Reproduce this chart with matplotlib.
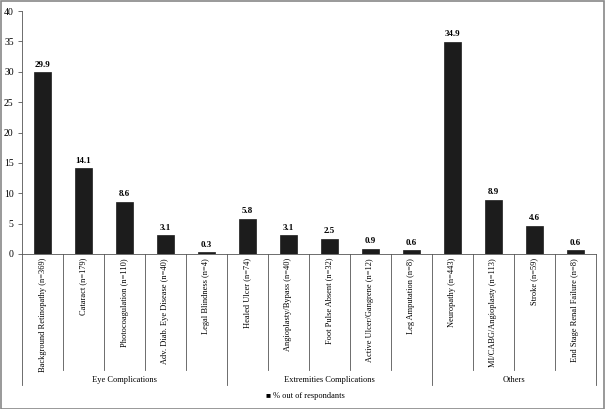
import matplotlib
matplotlib.use("Agg")
import matplotlib.pyplot as plt
from matplotlib.transforms import blended_transform_factory
from matplotlib.patches import Rectangle

categories = ["Background Retinopathy (n=369)", "Cataract (n=179)", "Photocoagulation (n=110)",
              "Adv. Diab. Eye Disease (n=40)", "Legal Blindness (n=4)",
              "Healed Ulcer (n=74)", "Angioplasty/Bypass (n=40)", "Foot Pulse Absent (n=32)",
              "Active Ulcer/Gangrene (n=12)", "Leg Amputation (n=8)",
              "Neuropathy (n=443)", "MI/CABG/Angioplasty (n=113)", "Stroke (n=59)",
              "End Stage Renal Failure (n=8)"]
values = [29.9, 14.1, 8.6, 3.1, 0.3, 5.8, 3.1, 2.5, 0.9, 0.6, 34.9, 8.9, 4.6, 0.6]
groups = ["Eye Complications", "Extremities Complications", "Others"]
group_sizes = [5, 5, 4]
series_name = "% out of respondants"
yticks = [0, 5, 10, 15, 20, 25, 30, 35, 40]

plt.rcParams['font.family'] = ['Liberation Serif', 'DejaVu Serif']

fig = plt.figure(figsize=(6.05, 4.09), dpi=100)
ax = fig.add_axes([0.0364, 0.379, 0.9486, 0.594])
x = list(range(len(values)))
ax.bar(x, values, width=0.41, color="#1c1c1c", edgecolor="#1c1c1c", linewidth=0.5)
for xi, v in zip(x, values):
    ax.text(xi, v + 0.6, f"{v:.1f}", ha="center", va="bottom", fontsize=6.5, fontweight="bold")

ax.set_xlim(-0.5, len(values) - 0.5)
ax.set_ylim(0, 40)
ax.set_yticks(yticks)
ax.set_yticklabels([str(t) for t in yticks], fontsize=7)
ax.tick_params(axis='y', length=3, width=0.6, pad=3, color="#555555")
ax.set_xticks([])
for s in ["top", "right"]:
    ax.spines[s].set_visible(False)
ax.spines["left"].set_color("#555555")
ax.spines["bottom"].set_color("#555555")
ax.spines["left"].set_linewidth(0.6)
ax.spines["bottom"].set_linewidth(0.6)

tr = blended_transform_factory(ax.transData, ax.transAxes)
# category labels
for xi, c in zip(x, categories):
    ax.text(xi, -0.016, c, rotation=90, ha="center", va="top", fontsize=6,
            transform=tr, clip_on=False)
# dividers
bounds = []
start = 0
for g in group_sizes:
    bounds.append(start)
    start += g
bounds.append(start)
for i in range(1, len(values)):
    if i not in bounds:
        ax.plot([i - 0.5, i - 0.5], [0, -0.477], transform=tr, color="#555555", lw=0.6, clip_on=False)
for b in bounds:
    ax.plot([b - 0.5, b - 0.5], [0, -0.539], transform=tr, color="#555555", lw=0.6, clip_on=False)
for gi, g in enumerate(groups):
    mid = (bounds[gi] + bounds[gi + 1] - 1) / 2
    ax.text(mid, -0.519, g, ha="center", va="center", fontsize=6, transform=tr, clip_on=False)

# legend
fig.text(0.505, 1 - 396 / 409, "\u25a0 " + series_name, ha="center", va="center", fontsize=6)

fig.patches.append(Rectangle((0.001, 0.001), 0.997, 0.997, transform=fig.transFigure,
                             fill=False, edgecolor="#888888", lw=1.2))
fig.savefig("out.png", dpi=100)
